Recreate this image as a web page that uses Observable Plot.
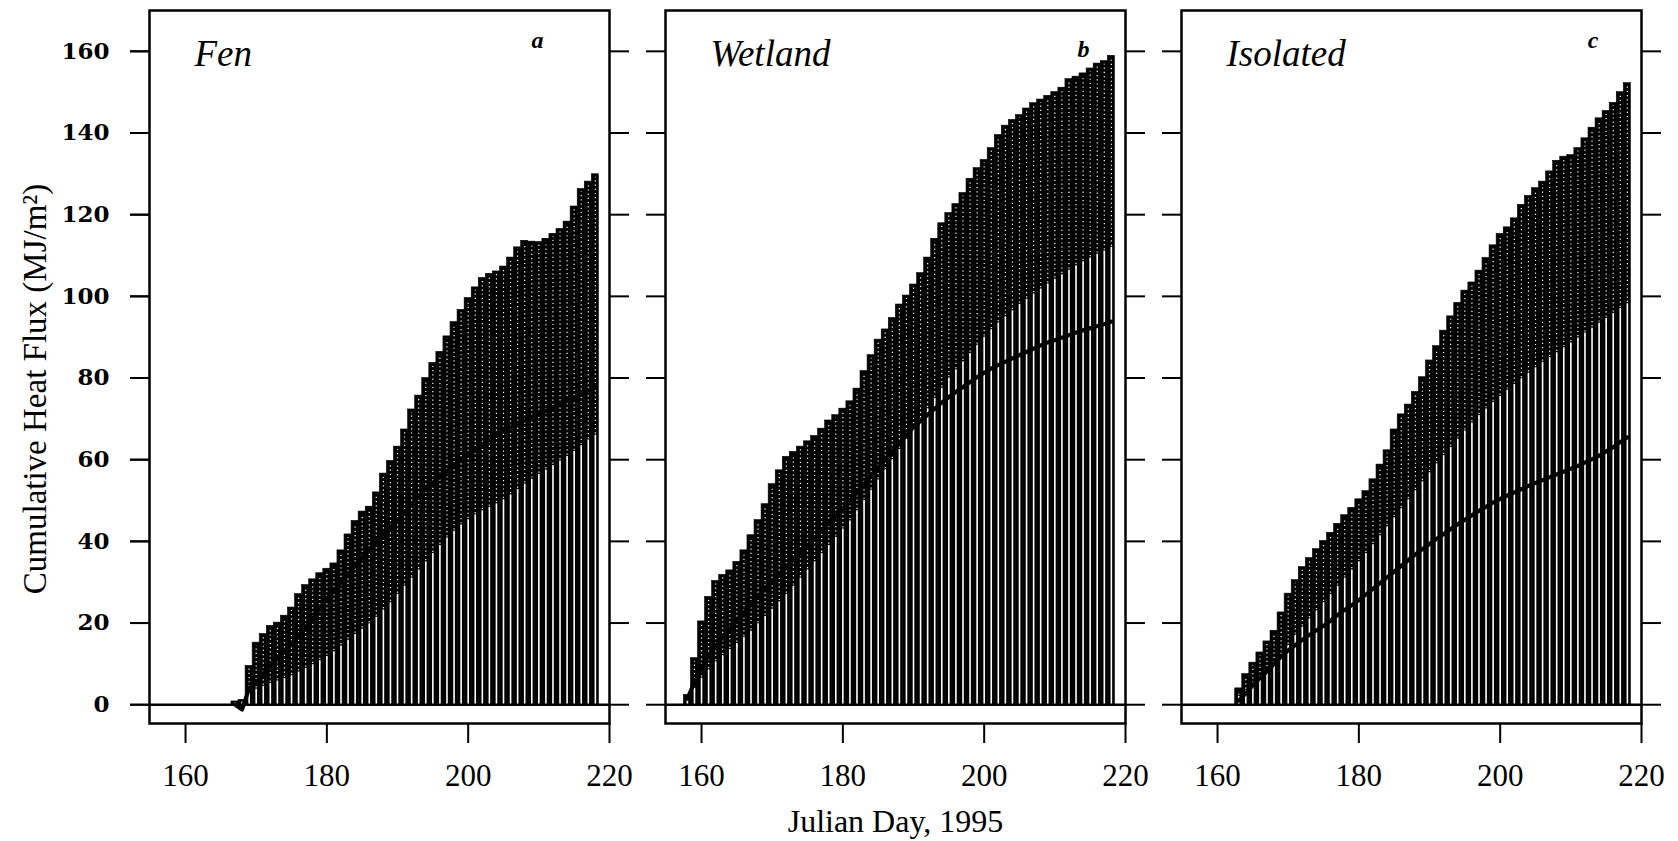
<!DOCTYPE html>
<html><head><meta charset="utf-8">
<script src="https://cdn.jsdelivr.net/npm/d3@7"></script>
<script src="https://cdn.jsdelivr.net/npm/@observablehq/plot@0.6"></script>
<style>html,body{margin:0;padding:0;background:#fff;}</style>
</head><body><div id="chart"></div>
<script>
const sites = ["Fen", "Wetland", "Isolated"];
const panelLetters = ["a", "b", "c"];
const xTicks = [160, 180, 200, 220];
const yTicks = [0, 20, 40, 60, 80, 100, 120, 140, 160];

const fenStartDay = 167;
const fenTotal = [0.8, 1.2, 9.5, 15.2, 17.3, 19.3, 20.1, 21.8, 23.8, 27.1, 29.3, 30.7, 32.2, 33.3, 34.6, 37.8, 41.7, 45.0, 47.3, 48.5, 52.0, 56.6, 59.7, 63.2, 67.4, 72.3, 75.7, 80.0, 83.7, 86.4, 90.2, 93.7, 96.7, 99.6, 102.2, 104.5, 105.5, 106.1, 107.3, 109.5, 112.0, 113.6, 113.4, 113.3, 114.1, 115.3, 116.5, 118.3, 122.0, 126.3, 128.1, 129.9];
const fenMid = [0.4, 0.6, 3.0, 3.8, 4.5, 5.2, 5.8, 6.4, 7.1, 8.0, 8.9, 9.8, 10.8, 11.8, 13.0, 14.4, 15.8, 17.2, 18.5, 19.8, 21.4, 23.2, 25.0, 27.0, 29.0, 31.0, 33.0, 35.0, 37.0, 39.0, 40.8, 42.5, 44.0, 45.3, 46.5, 47.5, 48.3, 49.2, 50.2, 51.4, 52.7, 54.0, 55.2, 56.4, 57.5, 58.6, 59.7, 60.8, 62.0, 63.4, 64.8, 66.0];
const fenLine = [0, -1.2, 4.0, 5.5, 7.5, 9.5, 11.2, 13.0, 15.0, 17.0, 19.0, 21.0, 23.5, 26.0, 28.0, 30.0, 32.0, 34.0, 36.0, 38.0, 40.0, 41.8, 43.5, 45.0, 47.0, 49.0, 51.0, 52.8, 54.3, 55.8, 57.2, 58.6, 60.0, 61.2, 62.4, 63.6, 64.8, 66.0, 67.0, 67.9, 68.8, 69.6, 70.4, 71.2, 72.0, 72.8, 73.6, 74.4, 75.2, 76.0, 77.0, 78.0];

const wetStartDay = 158;
const wetTotal = [2.4, 11.4, 20.4, 26.4, 30.3, 31.8, 32.9, 35.0, 37.8, 41.5, 45.2, 49.1, 54.0, 57.4, 60.7, 61.9, 63.2, 64.5, 65.8, 67.6, 69.6, 70.9, 72.5, 74.3, 77.4, 81.7, 85.6, 89.4, 91.9, 94.7, 98.0, 100.2, 102.9, 105.7, 109.5, 114.1, 117.9, 120.4, 122.6, 125.3, 128.8, 131.4, 133.4, 136.3, 139.5, 141.8, 143.2, 144.4, 146.0, 147.3, 148.2, 149.1, 150.0, 151.1, 153.2, 153.8, 154.6, 155.8, 157.0, 157.6, 158.9];
const wetMid = [1.0, 4.0, 6.5, 8.5, 10.5, 12.0, 13.5, 15.0, 16.5, 18.0, 19.8, 21.6, 23.4, 25.2, 27.0, 29.0, 31.0, 33.0, 35.0, 37.0, 39.0, 41.0, 43.0, 45.0, 47.5, 50.0, 52.5, 55.0, 57.5, 60.0, 62.5, 65.0, 67.5, 70.0, 72.5, 75.0, 77.5, 80.0, 82.0, 84.0, 86.0, 88.0, 90.0, 91.8, 93.5, 95.0, 96.5, 98.0, 99.3, 100.6, 101.8, 103.0, 104.2, 105.3, 106.4, 107.5, 108.5, 109.4, 110.3, 111.1, 112.0];
const wetLine = [1.5, 5.5, 9.0, 12.0, 14.5, 16.5, 18.5, 20.5, 22.5, 24.5, 26.5, 28.5, 30.3, 32.0, 33.8, 35.5, 37.2, 39.0, 40.8, 42.6, 44.4, 46.2, 48.0, 50.0, 52.0, 54.0, 56.0, 58.0, 60.0, 62.0, 64.0, 66.0, 68.0, 69.5, 71.0, 72.5, 74.0, 75.3, 76.6, 77.8, 79.0, 80.2, 81.3, 82.3, 83.2, 84.0, 84.8, 85.6, 86.4, 87.2, 88.0, 88.7, 89.3, 89.9, 90.5, 91.1, 91.7, 92.2, 92.7, 93.2, 93.8];

const isoStartDay = 163;
const isoTotal = [4.0, 7.5, 10.3, 12.8, 15.5, 18.1, 22.6, 27.2, 30.5, 33.7, 35.9, 38.1, 40.1, 42.1, 44.3, 46.4, 48.2, 50.3, 52.3, 55.2, 58.8, 62.3, 67.4, 71.1, 73.5, 76.6, 80.2, 84.3, 87.8, 91.6, 95.1, 98.4, 101.4, 103.4, 106.3, 109.4, 112.5, 115.3, 116.9, 119.1, 122.4, 124.6, 126.5, 128.1, 130.6, 133.2, 134.2, 134.6, 136.3, 138.7, 141.3, 143.6, 145.4, 147.4, 150.0, 152.2];
const isoMid = [2.0, 3.5, 5.0, 6.5, 8.0, 10.0, 12.0, 14.5, 17.0, 19.0, 21.0, 23.0, 25.0, 27.0, 29.0, 31.0, 33.0, 35.0, 37.0, 39.2, 41.4, 43.6, 45.8, 48.0, 50.2, 52.4, 54.6, 56.8, 59.0, 61.0, 63.0, 65.0, 67.0, 69.0, 70.8, 72.4, 74.0, 75.5, 77.0, 78.4, 79.8, 81.2, 82.5, 83.8, 85.0, 86.2, 87.4, 88.6, 89.8, 91.0, 92.2, 93.4, 94.6, 95.8, 97.0, 98.2];
const isoLine = [1.0, 2.8, 4.8, 6.5, 8.2, 10.0, 11.8, 13.3, 14.6, 15.9, 17.1, 18.2, 19.3, 20.6, 22.0, 23.2, 24.4, 25.6, 27.0, 28.4, 29.8, 31.2, 32.6, 34.0, 35.4, 36.8, 38.1, 39.4, 40.6, 41.8, 43.0, 44.2, 45.3, 46.4, 47.5, 48.5, 49.5, 50.4, 51.2, 52.0, 52.8, 53.6, 54.3, 55.0, 55.7, 56.4, 57.1, 57.8, 58.5, 59.3, 60.1, 61.0, 62.0, 63.1, 64.3, 65.5];

function build(site, start, total, mid, line) {
  return total.map((t, i) => ({site, day: start + i, total: t, mid: mid[i], line: line[i]}));
}
const rows = [
  ...build("Fen", fenStartDay, fenTotal, fenMid, fenLine),
  ...build("Wetland", wetStartDay, wetTotal, wetMid, wetLine),
  ...build("Isolated", isoStartDay, isoTotal, isoMid, isoLine)
];
const panels = sites.map((s, i) => ({site: s, letter: panelLetters[i]}));
const serif = "'Liberation Serif', 'Times New Roman', serif";

const chart = Plot.plot({
  width: 1678,
  height: 841,
  marginLeft: 148,
  marginRight: 37,
  marginTop: 10,
  marginBottom: 118,
  style: {fontFamily: serif, background: "#fff", color: "#000"},
  fx: {domain: sites, paddingInner: 0.109, paddingOuter: 0, axis: null, label: null},
  x: {domain: [154.9, 220]},
  y: {domain: [-4.6, 170]},
  marks: [
    Plot.rectY(rows, {fx: "site", x1: d => d.day - 0.5, x2: d => d.day + 0.5, y1: 0, y2: "total", fill: "#000", stroke: "#000", strokeWidth: 0.6}),
    Plot.ruleX(rows, {fx: "site", x: "day", y1: 0, y2: "mid", stroke: "#fff", strokeWidth: 1.6}),
    Plot.ruleX(rows, {fx: "site", x: "day", y1: "mid", y2: "total", stroke: "#fff", strokeWidth: 1.2, strokeDasharray: "1.2,3", dy: 3}),
    Plot.line(rows, {fx: "site", x: "day", y: "line", z: "site", stroke: "#000", strokeWidth: 4}),
    Plot.ruleY([0], {stroke: "#000", strokeWidth: 2.5}),
    Plot.frame({stroke: "#000", strokeWidth: 2.5}),
    Plot.axisY({anchor: "left", ticks: yTicks, tickSize: 19, tickPadding: 21, tickFormat: d => d, label: null,
      fontSize: 23, fontWeight: "bold", fontFamily: "'DejaVu Serif', serif", strokeWidth: 2}),
    Plot.axisY({anchor: "left", ticks: yTicks, tickSize: 19, tickFormat: () => "", label: null, facetAnchor: null, strokeWidth: 2}),
    Plot.axisY({anchor: "right", ticks: yTicks, tickSize: 19, tickFormat: () => "", label: null, facetAnchor: null, strokeWidth: 2}),
    Plot.axisX({anchor: "bottom", ticks: xTicks, tickSize: 20, tickPadding: 20, tickFormat: d => d, label: null,
      fontSize: 31, fontFamily: serif, strokeWidth: 2, facetAnchor: null}),
    Plot.text(panels, {fx: "site", text: "site", frameAnchor: "top-left", dx: 45, dy: 44, textAnchor: "start",
      lineAnchor: "middle", fontSize: 37, fontStyle: "italic", fontFamily: serif}),
    Plot.text(panels.filter(d => d.site === "Fen"), {fx: "site", text: "letter", frameAnchor: "top-right", dx: -66, dy: 20,
      fontSize: 24, fontStyle: "italic", fontWeight: "bold", fontFamily: serif}),
    Plot.text(panels.filter(d => d.site === "Wetland"), {fx: "site", text: "letter", frameAnchor: "top-right", dx: -36, dy: 29,
      fontSize: 24, fontStyle: "italic", fontWeight: "bold", fontFamily: serif}),
    Plot.text(panels.filter(d => d.site === "Isolated"), {fx: "site", text: "letter", frameAnchor: "top-right", dx: -43, dy: 20,
      fontSize: 24, fontStyle: "italic", fontWeight: "bold", fontFamily: serif}),
    Plot.text(panels.filter(d => d.site === "Wetland"), {fx: "site", text: () => "Julian Day, 1995", frameAnchor: "bottom",
      dy: 108, fontSize: 32, fontFamily: serif}),
    Plot.text(panels.filter(d => d.site === "Fen"), {fx: "site", text: () => "Cumulative Heat Flux (MJ/m²)", frameAnchor: "left",
      textAnchor: "middle", dx: -114, dy: 22, rotate: -90, fontSize: 33, fontFamily: serif})
  ]
});
document.getElementById("chart").appendChild(chart);
</script>
</body></html>
